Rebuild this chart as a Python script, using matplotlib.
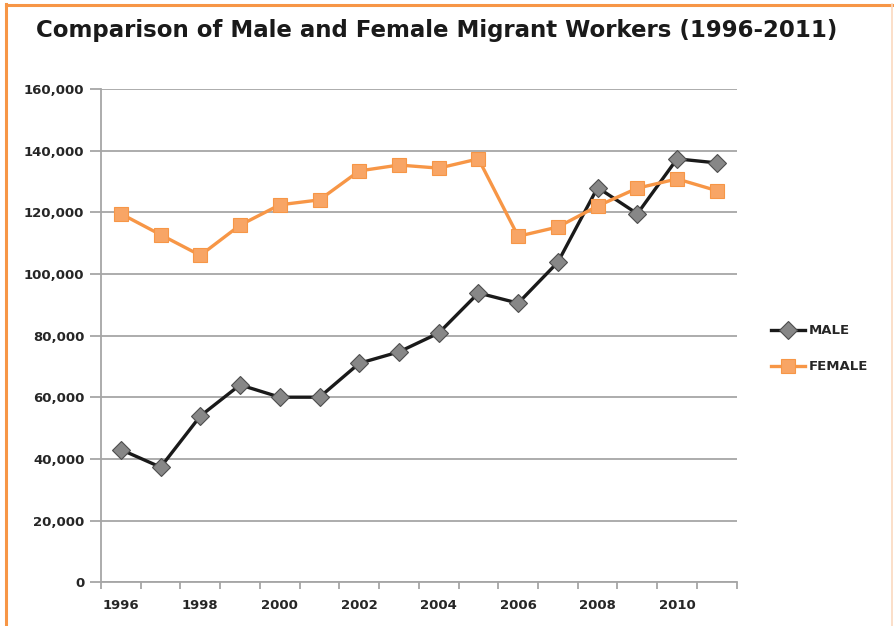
import numpy as np
import matplotlib.pyplot as plt
from matplotlib.lines import Line2D
from matplotlib.ticker import FuncFormatter

years = [1996, 1997, 1998, 1999, 2000, 2001, 2002, 2003,
         2004, 2005, 2006, 2007, 2008, 2009, 2010, 2011]
male = [43000, 37300, 53900, 64000, 60000, 60000, 71000, 74700,
        80800, 93800, 90500, 103800, 128000, 119500, 137300, 136000]
female = [119500, 112700, 106000, 115800, 122400, 124000, 133400, 135300,
          134300, 137300, 112200, 115200, 122000, 127800, 130800, 127000]

grid_col = '#a6a6a6'
text_col = '#262626'

fig = plt.figure(figsize=(8.94, 6.26), dpi=100)
ax = fig.add_axes([0.113, 0.070, 0.711, 0.788])

x = np.arange(len(years))
ax.plot(x, male, color='#1a1a1a', lw=2.4, marker='D', ms=9,
        markerfacecolor='#878787', markeredgecolor='#4d4d4d', markeredgewidth=0.8,
        label='MALE', zorder=3)
ax.plot(x, female, color='#f79646', lw=2.4, marker='s', ms=10.5,
        markerfacecolor='#f8a565', markeredgecolor='#f79646', markeredgewidth=0.8,
        label='FEMALE', zorder=3)

ax.set_xlim(-0.5, len(years) - 0.5)
ax.set_ylim(0, 160000)
ax.set_yticks(np.arange(0, 160001, 20000))
ax.yaxis.set_major_formatter(FuncFormatter(lambda v, p: f'{int(v):,}'))
ax.yaxis.grid(True, color=grid_col, lw=1.3)
ax.set_axisbelow(True)

ax.set_xticks(x[::2])
ax.set_xticklabels([str(y) for y in years[::2]])
ax.set_xticks(np.arange(-0.5, len(years), 1), minor=True)
ax.tick_params(axis='x', which='major', length=0, pad=12)
ax.tick_params(axis='x', which='minor', length=5, width=1.3, color=grid_col)
ax.tick_params(axis='y', length=8, width=1.3, color=grid_col, pad=4)
for lab in ax.get_xticklabels() + ax.get_yticklabels():
    lab.set_fontsize(9.5)
    lab.set_fontweight('bold')
    lab.set_color(text_col)

for s in ['top', 'right']:
    ax.spines[s].set_visible(False)
for s in ['left', 'bottom']:
    ax.spines[s].set_color(grid_col)
    ax.spines[s].set_linewidth(1.3)

leg = ax.legend(loc='center left', bbox_to_anchor=(1.035, 0.473), frameon=False,
                handlelength=2.6, labelspacing=1.75, handletextpad=0.3,
                prop={'size': 9.5, 'weight': 'bold'})
for t in leg.get_texts():
    t.set_color(text_col)

fig.text(0.04, 0.952, 'Comparison of Male and Female Migrant Workers (1996-2011)',
         fontsize=16.5, fontweight='bold', color='#1a1a1a', va='center', ha='left')

# orange frame around the picture
fig.add_artist(Line2D([0.007, 0.007], [0, 0.993], transform=fig.transFigure,
                      color='#f79646', lw=2.2))
fig.add_artist(Line2D([0.007, 1.0], [0.992, 0.992], transform=fig.transFigure,
                      color='#f79646', lw=2.2))
fig.add_artist(Line2D([0.998, 0.998], [0, 0.993], transform=fig.transFigure,
                      color='#fbd9c0', lw=1.2))

fig.savefig('out.png', dpi=100)
